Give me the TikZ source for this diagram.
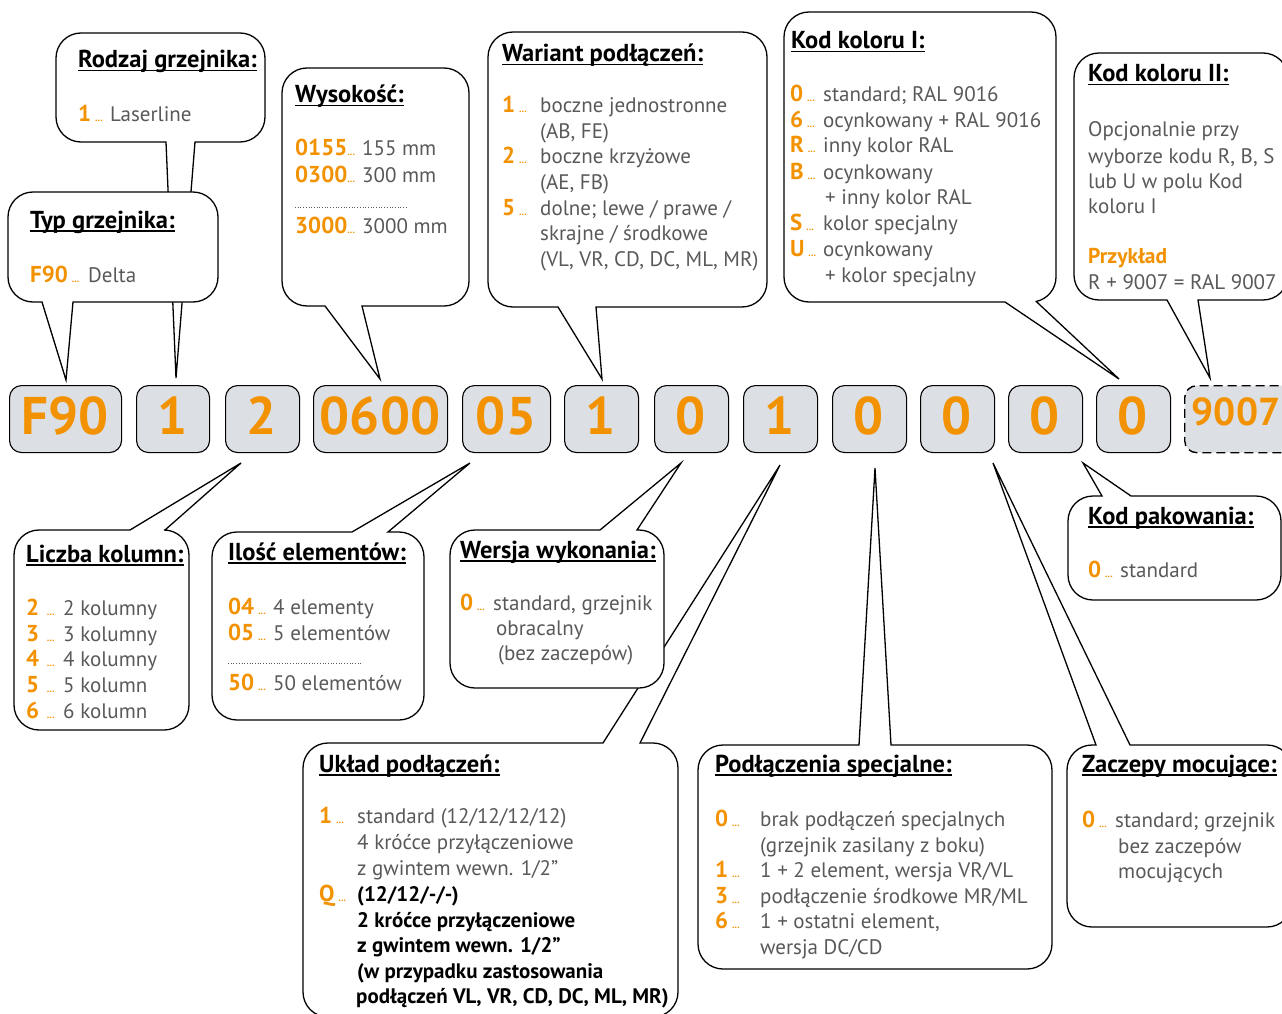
\documentclass[tikz,border=0pt]{standalone}
\usepackage{fontspec}
\setmainfont{PT Sans}
\definecolor{org}{HTML}{F39200}
\definecolor{txt}{HTML}{595959}
\definecolor{boxfill}{HTML}{DCDFE3}
\newcounter{nd}
\newcommand\R{25}
\newcommand\dotsx{\,{\fontsize{10}{10}\selectfont...}}
\newcommand\dotsn{{\fontsize{10}{10}\selectfont...}}
\newcommand\cf{\bfseries\fontsize{23}{23}\selectfont}
% bubble with tail on bottom edge: x1,y1,x2,y2,a,b,tipx,tipy
\newcommand\bubbleB[8]{%
  \draw[bubble] (#5,#4) -- ({#1+\R},#4) arc[start angle=90,end angle=180,radius=\R]
   -- (#1,{#2+\R}) arc[start angle=180,end angle=270,radius=\R]
   -- ({#3-\R},#2) arc[start angle=270,end angle=360,radius=\R]
   -- (#3,{#4-\R}) arc[start angle=0,end angle=90,radius=\R]
   -- (#6,#4) -- (#7,#8) -- cycle;}
% bubble with tail on top edge
\newcommand\bubbleT[8]{%
  \draw[bubble] (#6,#2) -- ({#3-\R},#2) arc[start angle=270,end angle=360,radius=\R]
   -- (#3,{#4-\R}) arc[start angle=0,end angle=90,radius=\R]
   -- ({#1+\R},#4) arc[start angle=90,end angle=180,radius=\R]
   -- (#1,{#2+\R}) arc[start angle=180,end angle=270,radius=\R]
   -- (#5,#2) -- (#7,#8) -- cycle;}
% title: x, y, text
\newcommand\ttlx[3]{\stepcounter{nd}%
  \node[ttl] (h\arabic{nd}) at (#1,#2) {#3};
  \draw[line width=1.4pt] ([yshift=-2.8pt]h\arabic{nd}.base west) -- ([yshift=-2.8pt]h\arabic{nd}.base east);}
\newcommand\entry[5]{\stepcounter{nd}%
  \node[body] (c\arabic{nd}) at (#1,#2) {{\color{org}\cf #3}};
  \node[body] (t\arabic{nd}) at (#4,#2) {#5};}
\newcommand\tline[3]{\stepcounter{nd}%
  \node[body] (t\arabic{nd}) at (#1,#2) {#3};}
\newcommand\bline[3]{\stepcounter{nd}%
  \node[body,text=black,font=\bfseries\fontsize{21}{21}\selectfont] (t\arabic{nd}) at (#1,#2) {#3};}
\tikzset{
  bubble/.style={draw=black, fill=white, line width=1.3pt},
  codebox/.style={draw=black, fill=boxfill, line width=1.1pt, rounded corners=12pt, anchor=north west, minimum height=67pt, inner sep=0pt},
  body/.style={anchor=base west, inner sep=0pt, text=txt, font=\fontsize{21}{21}\selectfont},
  ttl/.style={anchor=base west, inner sep=0pt, text=black, font=\bfseries\fontsize{24.5}{24.5}\selectfont},
  code/.style={anchor=base, inner sep=0pt, text=org, font=\bfseries\fontsize{53}{53}\selectfont},
  dotline/.style={dotted, line width=0.7pt, draw=txt},
}
\begin{document}
\begin{tikzpicture}[x=1pt,y=-1pt]
\useasboundingbox (0,0) rectangle (1282,1014);
\clip (0,0) rectangle (1282,1014);
\fill[white] (0,0) rectangle (1282,1014);

% ---------- code boxes ----------
\node[codebox, minimum width=112pt] (b1) at (9,385) {};
\node[codebox, minimum width=73pt] (b2) at (136,385) {};
\node[codebox, minimum width=74pt] (b3) at (225,385) {};
\node[codebox, minimum width=134pt] (b4) at (313,385) {};
\node[codebox, minimum width=88pt] (b5) at (462,385) {};
\node[codebox, minimum width=74pt] (b6) at (564,385) {};
\node[codebox, minimum width=74pt] (b7) at (654,385) {};
\node[codebox, minimum width=74pt] (b8) at (743,385) {};
\node[codebox, minimum width=74pt] (b9) at (832,385) {};
\node[codebox, minimum width=74pt] (b10) at (920,385) {};
\node[codebox, minimum width=74pt] (b11) at (1008,385) {};
\node[codebox, minimum width=74pt] (b12) at (1096,385) {};
\node[codebox, minimum width=120pt, dashed, dash pattern=on 9pt off 5pt, line width=1.4pt] (b13) at (1184,385) {};
\node[code] (k1) at (65,434) {F90};
\node[code] (k2) at (172.5,434) {1};
\node[code] (k3) at (262,434) {2};
\node[code] (k4) at (380,434) {0600};
\node[code] (k5) at (506,434) {05};
\node[code] (k6) at (601,434) {1};
\node[code] (k7) at (691,434) {0};
\node[code] (k8) at (780,434) {1};
\node[code] (k9) at (869,434) {0};
\node[code] (k10) at (957,434) {0};
\node[code] (k11) at (1045,434) {0};
\node[code] (k12) at (1133,434) {0};
\node[code, font=\bfseries\fontsize{39}{39}\selectfont] (k13) at (1236,425) {9007};

% ---------- Rodzaj grzejnika ----------
\bubbleB{56}{33}{265}{142}{166}{195}{176}{378}
\ttlx{78}{68}{Rodzaj grzejnika:}
\entry{78}{122}{1\dotsx}{110}{Laserline}

% ---------- Typ grzejnika ----------
\bubbleB{8}{192}{218}{302}{42}{73}{66}{380}
\ttlx{30}{228}{Typ grzejnika:}
\entry{30}{282}{F90\dotsx}{88}{Delta}

% ---------- Wysokosc ----------
\bubbleB{282}{68}{469}{306}{325}{362}{380}{379}
\ttlx{295}{103}{Wysokość:}
\entry{295}{156}{0155\dotsn}{362}{155 mm}
\entry{295}{182}{0300\dotsn}{362}{300 mm}
\draw[dotline] (295,207) -- (408,207);
\entry{295}{233}{3000\dotsn}{362}{3000 mm}

% ---------- Wariant podlaczen ----------
\bubbleB{488}{32}{767}{307}{558}{596}{602}{379}
\ttlx{502}{62}{Wariant podłączeń:}
\entry{502}{113}{1\dotsx}{540}{boczne jednostronne}
\tline{540}{138.5}{(AB, FE)}
\entry{502}{164}{2\dotsx}{540}{boczne krzyżowe}
\tline{540}{189.5}{(AE, FB)}
\entry{502}{215}{5\dotsx}{540}{dolne; lewe / prawe /}
\tline{540}{240.5}{skrajne / środkowe}
\tline{540}{266}{(VL, VR, CD, DC, ML, MR)}

% ---------- Kod koloru I ----------
\draw[bubble] (1005,302) -- (809,302) arc[start angle=90,end angle=180,radius=\R]
   -- (784,37) arc[start angle=180,end angle=270,radius=\R]
   -- (1031,12) arc[start angle=270,end angle=360,radius=\R]
   -- (1056,277) arc[start angle=0,end angle=78,radius=\R]
   -- (1119,379) -- cycle;
\ttlx{791}{49}{Kod koloru I:}
\entry{790}{102}{0\dotsx}{823}{standard; RAL 9016}
\entry{790}{128}{6\dotsx}{823}{ocynkowany + RAL 9016}
\entry{790}{153}{R\dotsx}{823}{inny kolor RAL}
\entry{790}{179}{B\dotsx}{823}{ocynkowany}
\tline{825}{204}{+ inny kolor RAL}
\entry{790}{230}{S\dotsx}{823}{kolor specjalny}
\entry{790}{256}{U\dotsx}{823}{ocynkowany}
\tline{825}{282}{+ kolor specjalny}

% ---------- Kod koloru II ----------
\bubbleB{1074}{53}{1288}{300}{1167}{1198}{1210}{378}
\ttlx{1088}{82}{Kod koloru II:}
\tline{1088}{137}{Opcjonalnie przy}
\tline{1088}{163}{wyborze kodu R, B, S}
\tline{1088}{188}{lub U w polu Kod}
\tline{1088}{213}{koloru I}
\stepcounter{nd}\node[body, text=org, font=\bfseries\fontsize{21.5}{21.5}\selectfont] (t\arabic{nd}) at (1088,263) {Przykład};
\tline{1088}{289}{R + 9007 = RAL 9007}

% ---------- Liczba kolumn ----------
\bubbleT{14}{530}{189}{730}{130}{165}{241}{463}
\ttlx{26}{562}{Liczba kolumn:}
\entry{26}{615}{2\,\dotsx}{63}{2 kolumny}
\entry{26}{641}{3\,\dotsx}{63}{3 kolumny}
\entry{26}{666}{4\,\dotsx}{63}{4 kolumny}
\entry{26}{692}{5\,\dotsx}{63}{5 kolumn}
\entry{26}{718}{6\,\dotsx}{63}{6 kolumn}

% ---------- Ilosc elementow ----------
\bubbleT{212}{532}{424}{720}{352}{388}{470}{463}
\ttlx{228}{560}{Ilość elementów:}
\entry{228}{614}{04\dotsx}{273}{4 elementy}
\entry{228}{640}{05\dotsx}{273}{5 elementów}
\draw[dotline] (228,663) -- (362,663);
\entry{228}{690}{50\dotsx}{273}{50 elementów}

% ---------- Uklad podlaczen ----------
\bubbleT{303}{743}{678}{1017}{603}{640}{780}{465}
\ttlx{319}{772}{Układ podłączeń:}
\entry{319}{823}{1\dotsx}{357}{standard (12/12/12/12)}
\tline{357}{849}{4 króćce przyłączeniowe}
\tline{357}{875}{z gwintem wewn. 1/2”}
\stepcounter{nd}\node[body] (c\arabic{nd}) at (319,901) {{\color{org}\cf Q\dotsx}};
\bline{357}{901}{(12/12/-/-)}
\bline{357}{927}{2 króćce przyłączeniowe}
\bline{357}{952}{z gwintem wewn. 1/2”}
\bline{357}{978}{(w przypadku zastosowania}
\bline{356}{1003}{podłączeń VL, VR, CD, DC, ML, MR)}

% ---------- Wersja wykonania ----------
\bubbleT{450}{530}{664}{688}{600}{637}{681}{463}
\ttlx{460}{558}{Wersja wykonania:}
\entry{460}{610}{0\dotsx}{493}{standard, grzejnik}
\tline{496}{635}{obracalny}
\tline{498}{660}{(bez zaczepów)}

% ---------- Kod pakowania ----------
\bubbleT{1068}{496}{1281}{600}{1102}{1131}{1083}{463}
\ttlx{1088}{524}{Kod pakowania:}
\entry{1088}{577}{0\dotsx}{1120}{standard}

% ---------- Podlaczenia specjalne ----------
\bubbleT{698}{745}{1052}{969}{859}{891}{875}{468}
\ttlx{715}{772}{Podłączenia specjalne:}
\entry{715}{826}{0\dotsx}{760}{brak podłączeń specjalnych}
\tline{760}{852}{(grzejnik zasilany z boku)}
\entry{715}{877}{1\dotsx}{760}{1 + 2 element, wersja VR/VL}
\entry{715}{903}{3\dotsx}{760}{podłączenie środkowe MR/ML}
\entry{715}{928}{6\dotsx}{760}{1 + ostatni element,}
\tline{760}{954}{wersja DC/CD}

% ---------- Zaczepy mocujace ----------
\bubbleT{1067}{745}{1292}{927}{1096}{1130}{993}{463}
\ttlx{1082}{772}{Zaczepy mocujące:}
\entry{1082}{827}{0\dotsx}{1115}{standard; grzejnik}
\tline{1118}{853}{bez zaczepów}
\tline{1118}{878}{mocujących}
\end{tikzpicture}
\end{document}
